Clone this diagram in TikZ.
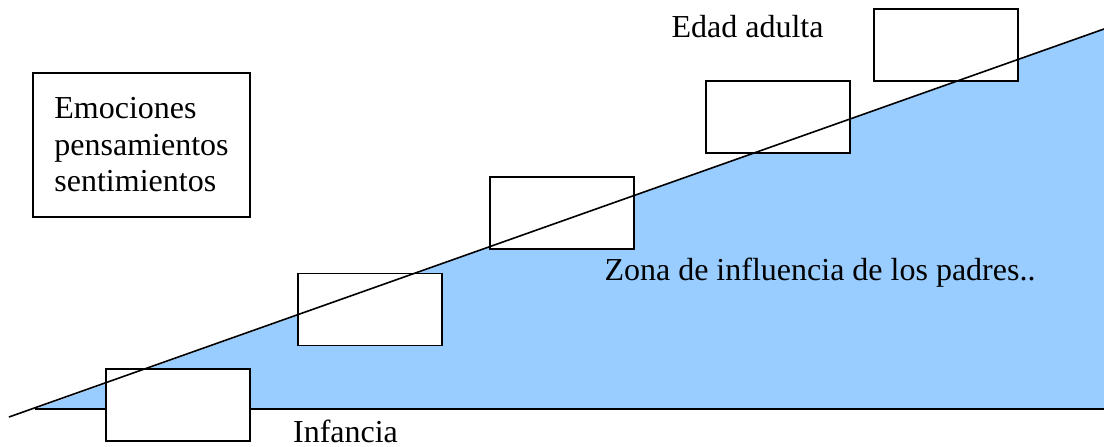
\documentclass[tikz,border=0pt]{standalone}
\usepackage{fontspec}
\setmainfont{Liberation Serif}
\usepackage{tikz}
\usetikzlibrary{positioning}

\begin{document}
\begin{tikzpicture}
			[
				x=1pt,
				y=-1pt,
				font=\fontsize{32}{36.5}\selectfont,
				stage/.style={draw, line width=1.5pt, fill=white, minimum width=144pt, minimum height=72pt, inner sep=0pt},
				label/.style={draw=none, fill=none, inner sep=0pt, anchor=base},
				line/.style={line width=1.6pt}
			]

			\useasboundingbox (0,0) rectangle (1104,447);

			% zone
			\coordinate (start) at (  9.0, 417.0 );
			\coordinate (base)  at ( 35.0, 409.0 );
			\coordinate (top)   at ( 1104.0, 29.0 );
			\coordinate (right) at ( 1104.0, 409.0 );
			\fill[fill={rgb,255:red,153;green,204;blue,255}] (base) -- (top) -- (right) -- cycle;
			\draw[line] (base) -- (right);

			% stages
			\foreach \name/\x/\y in {b1/178/405, b2/370/309.5, b3/562/213, b4/778/117, b5/946/45}
			\node[stage] (\name) at ( \x, \y ) {};

			\node[stage, minimum width=217pt, minimum height=144pt, align=left] (emo) at ( 141.5, 145.0 )
				{Emociones\\pensamientos\\sentimientos};

			% slope
			\draw[line] (start) -- (top);

			% labels
			\node[label] (adulta) at ( 747.5, 37.0 ) {Edad adulta};
			\node[label] (zona) at ( 820.0, 280.0 ) {Zona de influencia de los padres..};
			\node[label, text depth=0pt] (infancia) at ( 345.5, 442.0 ) {Infancia};

		\end{tikzpicture}
\end{document}
